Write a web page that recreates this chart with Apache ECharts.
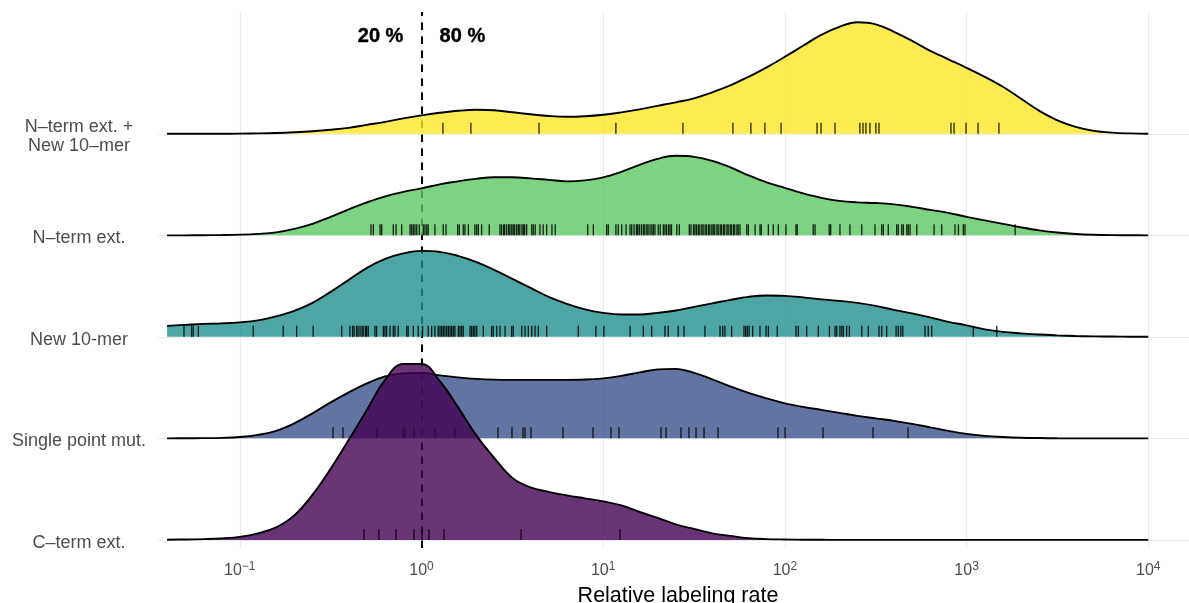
<!DOCTYPE html>
<html>
<head>
<meta charset="utf-8">
<script src="https://cdn.jsdelivr.net/npm/echarts@6/dist/echarts.min.js"></script>
<style>
html,body{margin:0;padding:0;background:#ffffff;}
#chart{width:1189px;height:603px;}
</style>
</head>
<body>
<div id="chart"></div>
<script>
// ---------- data (x values are log10 of the relative labeling rate) ----------
const ridgeNames = ['C–term ext.', 'Single point mut.', 'New 10-mer', 'N–term ext.', 'N–term ext. +\nNew 10–mer'];
const ridgeColors = ['#440154', '#3B528B', '#21908C', '#5DC863', '#FDE725'];

const densityGridLog10 = [-1.4,-1.3,-1.2,-1.1,-1.0,-0.9,-0.8,-0.7,-0.6,-0.5,-0.4,-0.3,-0.2,-0.1,0.0,
  0.1,0.2,0.3,0.4,0.5,0.6,0.7,0.8,0.9,1.0,1.1,1.2,1.3,1.4,1.5,1.6,1.7,1.8,1.9,2.0,
  2.1,2.2,2.3,2.4,2.5,2.6,2.7,2.8,2.9,3.0,3.1,3.2,3.3,3.4,3.5,3.6,3.7,3.8,3.9,4.0];

// scaled densities (about 100 = one ridge spacing)
const densityCterm = [0.2,0.4,0.8,1.5,3,6.5,12.5,24.5,45,71,100,130,160,176,176,
  159,133,105,82,62,52.5,48,44.5,41.5,38.5,34.5,28,22,15.5,11,6.5,4,1.8,0.8,0.4,
  0.2,0.1,0,0,0,0,0,0,0,0,0,0,0,0,0,0,0,0,0,0];
const densitySingle = [0,0.1,0.2,0.5,1.3,3.5,7.5,15,25,36,46,55,62,65,65.5,
  63,61,59.5,58.7,58.5,58.5,58.5,58.5,58.8,60,62.5,66,69,69.5,65.5,59,52,45.5,40,35,
  31.5,28.5,25.5,22.5,20,17.5,14.5,11,7.5,4.5,2.5,1.3,0.6,0.3,0.1,0,0,0,0,0];
const densityNew10 = [11,12,13,13.5,14.5,16.5,20.5,26,34,45,57,69,78,83.5,86,
  85,81,75,67,58,49,40,33,27.5,24,22.3,22.3,24,26.3,30,33.5,37,40,41.3,41,
  39.5,37.5,36,34,31,27,23.5,19.5,15,11.5,7.5,5,3.5,2.3,1.5,0.9,0.5,0.3,0.15,0.05];
const densityNterm = [0,0,0.1,0.3,0.7,1.5,3,6.5,11.5,18.5,26,33,39,43.5,47,
  51,54,56.5,58,58,57,55.5,54,55,58,63.5,70.5,76.5,79.5,78.5,74.5,68,60,53,47.5,
  42,37.5,34.5,33,32.3,31,28.5,25.5,22.5,18.5,15,11.5,8,5,2.8,1.4,0.6,0.2,0.1,0];
const densityNtermNew10 = [0,0,0,0.1,0.2,0.4,0.8,1.5,2.5,4,6,9,12,15.5,18.5,
  21,23,24,23.5,21.5,19.5,17.8,17,17.5,19,21.5,24.5,28,31.5,35.5,41.5,48.5,57,66.5,77,
  88,99,107,111.5,109.5,102,93,83,74.5,66,57,47,35,23,13.5,7,3,1.2,0.4,0.1];

// observations (rug), log10 relative labeling rate
const rugCterm = [-0.316,-0.234,-0.140,-0.041,0.003,0.041,0.124,0.548,1.093];
const rugSingle = [-0.487,-0.432,-0.245,-0.102,-0.091,-0.041,0.074,0.184,0.421,0.498,0.559,0.570,0.603,
  0.779,0.944,1.043,1.087,1.318,1.346,1.428,1.472,1.511,1.555,1.632,1.962,2.001,2.210,2.485,2.678];
const rugNew10 = [-1.307,-1.265,-1.256,-1.228,-0.926,-0.761,-0.687,-0.596,-0.439,-0.394,-0.379,-0.371,
  -0.357,-0.349,-0.338,-0.327,-0.321,-0.309,-0.302,-0.293,-0.256,-0.247,-0.210,-0.201,-0.192,-0.173,
  -0.155,-0.146,-0.128,-0.081,-0.073,-0.045,-0.018,0.006,0.037,0.056,0.074,0.092,0.102,0.111,0.120,
  0.129,0.139,0.148,0.157,0.166,0.175,0.184,0.203,0.212,0.221,0.230,0.267,0.276,0.285,0.294,0.304,
  0.340,0.386,0.395,0.414,0.432,0.460,0.496,0.505,0.552,0.570,0.588,0.607,0.625,0.643,0.689,0.863,
  0.960,1.004,1.148,1.221,1.267,1.340,1.358,1.413,1.445,1.560,1.643,1.658,1.670,1.707,1.775,1.784,
  1.793,1.803,1.823,1.863,1.896,1.909,1.958,2.061,2.074,2.120,2.184,2.245,2.276,2.285,2.303,2.313,
  2.322,2.340,2.355,2.423,2.459,2.518,2.533,2.560,2.612,2.624,2.638,2.649,2.771,2.789,2.808,3.037,3.166];
const rugNterm = [-0.278,-0.265,-0.228,-0.219,-0.155,-0.140,-0.109,-0.063,-0.054,-0.045,-0.036,-0.026,
  -0.012,0.010,0.019,0.029,0.037,0.074,0.120,0.135,0.199,0.208,0.230,0.239,0.258,0.294,0.304,0.313,
  0.331,0.373,0.432,0.441,0.452,0.458,0.469,0.480,0.487,0.497,0.505,0.513,0.524,0.533,0.541,0.553,
  0.561,0.568,0.579,0.607,0.615,0.626,0.652,0.670,0.689,0.718,0.736,
  0.915,0.946,1.019,1.028,1.070,1.083,1.102,1.126,1.148,1.157,1.170,1.183,1.190,1.199,1.210,1.221,
  1.229,1.240,1.247,1.258,1.268,1.276,1.285,1.303,1.314,1.331,1.340,1.349,1.360,1.368,1.376,1.405,
  1.419,1.474,1.483,1.497,1.505,1.514,1.524,1.532,1.543,1.550,1.561,1.569,1.580,1.587,1.598,1.606,
  1.614,1.626,1.633,1.644,1.651,1.662,1.669,1.681,1.688,1.699,1.706,1.717,1.724,1.736,1.743,1.753,
  1.790,1.799,1.836,1.863,1.870,1.909,1.936,1.964,2.006,2.061,2.068,2.156,2.166,2.244,2.252,2.303,
  2.358,2.423,2.496,2.533,2.542,2.569,2.615,2.624,2.643,2.652,2.671,2.679,2.689,2.726,2.821,2.863,
  2.936,2.955,2.982,2.991,3.267];
const rugNtermNew10 = [0.118,0.272,0.647,1.070,1.439,1.714,1.813,1.890,1.979,2.177,2.199,2.276,2.413,
  2.430,2.446,2.468,2.501,2.518,2.914,2.931,2.997,3.063,3.178];

const xTickExponents = [-1, 0, 1, 2, 3, 4];
const thresholdRate = 1;
const annotationTexts = ['20 %', '80 %'];
const annotationRates = [0.8, 1.25];

// ---------- chart ----------
const FONT = "'Liberation Sans', Arial, Helvetica, sans-serif";
const densityScale = 101.5;
const ridgeDensities = [densityCterm, densitySingle, densityNew10, densityNterm, densityNtermNew10];
const ridgeRugs = [rugCterm, rugSingle, rugNew10, rugNterm, rugNtermNew10];
const isInt = v => Math.abs(v - Math.round(v)) < 1e-6;

const series = [];
series.push({
  type: 'line', data: [], silent: true, z: 1,
  markLine: {
    silent: true, symbol: ['none', 'none'], label: { show: false }, animation: false,
    lineStyle: { color: '#EBEBEB', width: 1.2, type: 'solid' },
    data: xTickExponents.map(e => ({ xAxis: e })).concat(ridgeNames.map((n, k) => ({ yAxis: k })))
  }
});

ridgeNames.forEach((name, k) => {
  const z = 10 + (ridgeNames.length - 1 - k) * 3;
  series.push({
    type: 'line', name: name, z: z, silent: true,
    data: densityGridLog10.map((x, i) => [x, k + ridgeDensities[k][i] / densityScale]),
    smooth: 0.4, showSymbol: false, symbol: 'none',
    lineStyle: { color: '#000000', width: 1.9 },
    areaStyle: { color: ridgeColors[k], opacity: 0.8, origin: k }
  });
  series.push({
    type: 'scatter', z: z + 1, silent: true,
    data: ridgeRugs[k].map(v => [v, k]),
    symbol: 'rect', symbolSize: [1.3, 11], symbolOffset: [0, -5.5],
    itemStyle: { color: '#000000', opacity: 0.85 }
  });
});

series.push({
  type: 'line', data: [], silent: true, z: 50,
  markLine: {
    silent: true, symbol: ['none', 'none'], label: { show: false }, animation: false,
    lineStyle: { color: '#000000', width: 2, type: [7.5, 6.5] },
    data: [{ xAxis: Math.log10(thresholdRate) }]
  }
});

series.push({
  type: 'scatter', z: 51, silent: true, symbolSize: 1,
  itemStyle: { color: 'rgba(0,0,0,0)', opacity: 1 },
  data: annotationRates.map((r, i) => ({
    value: [Math.log10(r), 4.96],
    label: { position: i === 0 ? 'left' : 'right' }
  })),
  label: {
    show: true, distance: 0, formatter: p => annotationTexts[p.dataIndex], opacity: 1,
    fontFamily: FONT, fontWeight: 'bold', fontSize: 20, color: '#000000',
    textBorderColor: '#000000', textBorderWidth: 0.4
  }
});

const chart = echarts.init(document.getElementById('chart'), null, { renderer: 'canvas' });
chart.setOption({
  animation: false,
  backgroundColor: '#ffffff',
  grid: { left: 158, right: 0, top: 12, bottom: 55, containLabel: false, outerBoundsMode: 'none' },
  xAxis: {
    type: 'value', min: -1.45, max: 4.224,
    splitLine: { show: false }, axisLine: { show: false }, axisTick: { show: false },
    axisLabel: {
      margin: 13, showMinLabel: false, showMaxLabel: false,
      formatter: v => (isInt(v) && xTickExponents.indexOf(Math.round(v)) >= 0)
        ? '{b|10}{s|' + (v < 0 ? '−' + Math.round(-v) : Math.round(v)) + '}' : '',
      rich: {
        b: { fontSize: 16, fontFamily: FONT, color: '#4D4D4D', lineHeight: 18, verticalAlign: 'bottom' },
        s: { fontSize: 12, fontFamily: FONT, color: '#4D4D4D', lineHeight: 12, verticalAlign: 'top' }
      }
    },
    name: 'Relative labeling rate', nameLocation: 'middle', nameGap: 37,
    nameTextStyle: { fontSize: 21.5, color: '#000000', fontFamily: FONT, padding: [0, 0, 0, 9] }
  },
  yAxis: {
    type: 'value', min: -0.08, max: 5.2,
    splitLine: { show: false }, axisLine: { show: false }, axisTick: { show: false },
    axisLabel: {
      margin: 79, align: 'center', color: '#4D4D4D', fontFamily: FONT,
      showMinLabel: false, showMaxLabel: false,
      formatter: v => (isInt(v) && v >= 0 && v < ridgeNames.length)
        ? '{g| }\n' + ridgeNames[Math.round(v)].split('\n').map(s => '{n|' + s + '}').join('\n') : '',
      rich: {
        g: { fontSize: 1, lineHeight: 5.5 },
        n: { fontSize: 18, lineHeight: 18.5, color: '#4D4D4D', fontFamily: FONT }
      }
    }
  },
  series: series
});
</script>
</body>
</html>
